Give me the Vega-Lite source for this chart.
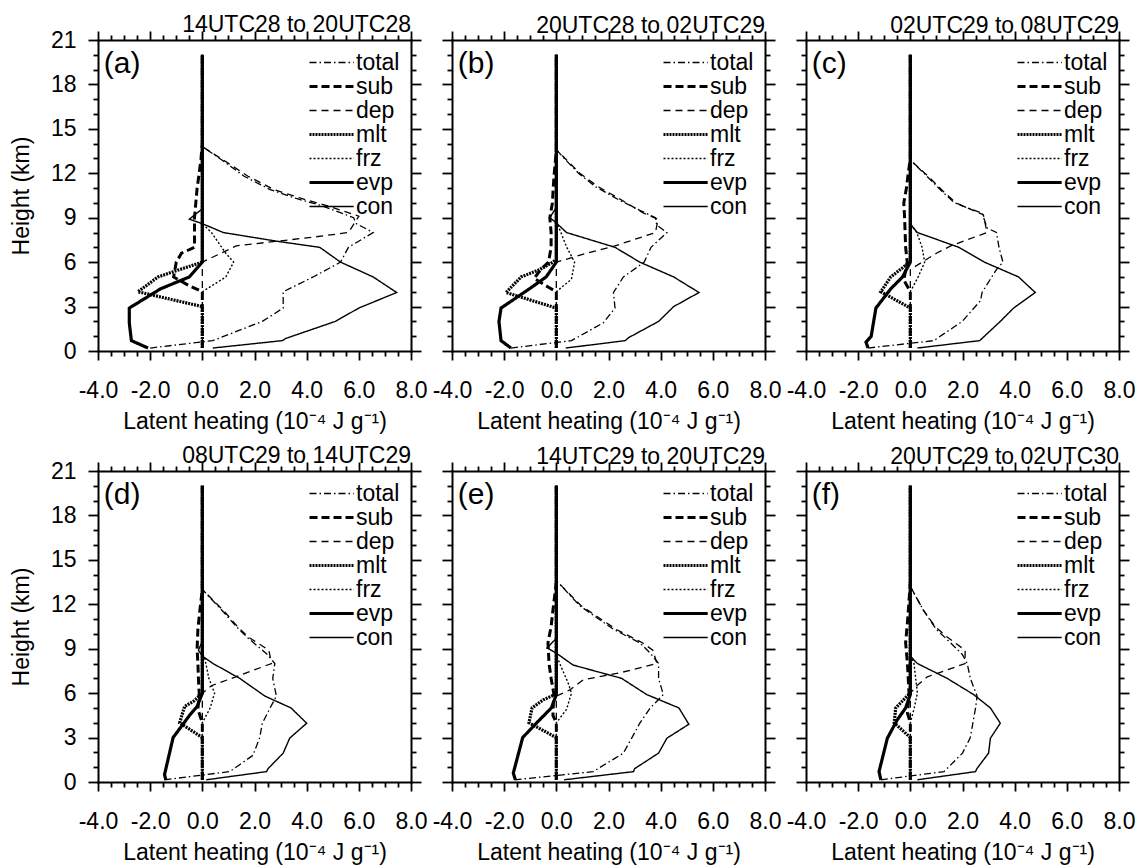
{
"$schema":"https://vega.github.io/schema/vega-lite/v6.json",
"background":"white",
"padding":{"left":10,"top":14,"right":5,"bottom":5},
"datasets":{"d":[
{"p":"a","s":"total","h":0.2,"v":-2.0},{"p":"a","s":"total","h":0.7,"v":0.4},{"p":"a","s":"total","h":2,"v":2.3},{"p":"a","s":"total","h":2.9,"v":3.1},{"p":"a","s":"total","h":4,"v":3.1},{"p":"a","s":"total","h":5,"v":4.25},{"p":"a","s":"total","h":6,"v":5.3},{"p":"a","s":"total","h":7,"v":5.6},{"p":"a","s":"total","h":8,"v":6.55},{"p":"a","s":"total","h":8.6,"v":5.9},{"p":"a","s":"total","h":9,"v":5.8},{"p":"a","s":"total","h":9.8,"v":4.6},{"p":"a","s":"total","h":10.3,"v":3.6},{"p":"a","s":"total","h":10.9,"v":2.6},{"p":"a","s":"total","h":11.8,"v":1.6},{"p":"a","s":"total","h":12.9,"v":0.75},{"p":"a","s":"total","h":13.8,"v":0},{"p":"a","s":"total","h":20,"v":0},
{"p":"a","s":"sub","h":0.2,"v":0},{"p":"a","s":"sub","h":4,"v":0},{"p":"a","s":"sub","h":4.4,"v":-0.5},{"p":"a","s":"sub","h":5,"v":-1.1},{"p":"a","s":"sub","h":6,"v":-1.0},{"p":"a","s":"sub","h":6.6,"v":-0.8},{"p":"a","s":"sub","h":7,"v":-0.3},{"p":"a","s":"sub","h":8,"v":-0.3},{"p":"a","s":"sub","h":9,"v":-0.3},{"p":"a","s":"sub","h":10,"v":-0.25},{"p":"a","s":"sub","h":11,"v":-0.2},{"p":"a","s":"sub","h":12,"v":-0.12},{"p":"a","s":"sub","h":13,"v":-0.05},{"p":"a","s":"sub","h":14,"v":0},{"p":"a","s":"sub","h":20,"v":0},
{"p":"a","s":"dep","h":0.2,"v":0},{"p":"a","s":"dep","h":6,"v":0},{"p":"a","s":"dep","h":7.1,"v":1.3},{"p":"a","s":"dep","h":7.4,"v":2.8},{"p":"a","s":"dep","h":7.7,"v":4.3},{"p":"a","s":"dep","h":8,"v":5.6},{"p":"a","s":"dep","h":9.1,"v":6.0},{"p":"a","s":"dep","h":9.8,"v":4.8},{"p":"a","s":"dep","h":10.3,"v":3.8},{"p":"a","s":"dep","h":10.9,"v":2.75},{"p":"a","s":"dep","h":11.8,"v":1.75},{"p":"a","s":"dep","h":12.9,"v":0.8},{"p":"a","s":"dep","h":13.8,"v":0},{"p":"a","s":"dep","h":20,"v":0},
{"p":"a","s":"mlt","h":0.2,"v":0},{"p":"a","s":"mlt","h":3,"v":0},{"p":"a","s":"mlt","h":4,"v":-2.47},{"p":"a","s":"mlt","h":5,"v":-1.7},{"p":"a","s":"mlt","h":5.5,"v":-0.87},{"p":"a","s":"mlt","h":6,"v":0},{"p":"a","s":"mlt","h":20,"v":0},
{"p":"a","s":"frz","h":0.2,"v":0},{"p":"a","s":"frz","h":4,"v":0},{"p":"a","s":"frz","h":5,"v":0.9},{"p":"a","s":"frz","h":6,"v":1.2},{"p":"a","s":"frz","h":6.6,"v":0.9},{"p":"a","s":"frz","h":8,"v":0.35},{"p":"a","s":"frz","h":8.6,"v":0},{"p":"a","s":"frz","h":20,"v":0},
{"p":"a","s":"evp","h":0.2,"v":-2.08},{"p":"a","s":"evp","h":0.7,"v":-2.72},{"p":"a","s":"evp","h":1.9,"v":-2.8},{"p":"a","s":"evp","h":2.9,"v":-2.8},{"p":"a","s":"evp","h":4.2,"v":-1.6},{"p":"a","s":"evp","h":5,"v":-0.5},{"p":"a","s":"evp","h":6,"v":0},{"p":"a","s":"evp","h":20,"v":0},
{"p":"a","s":"con","h":0.2,"v":0.4},{"p":"a","s":"con","h":0.7,"v":3.07},{"p":"a","s":"con","h":0.85,"v":3.2},{"p":"a","s":"con","h":2,"v":5.1},{"p":"a","s":"con","h":2.9,"v":6.0},{"p":"a","s":"con","h":3.95,"v":7.45},{"p":"a","s":"con","h":5,"v":6.55},{"p":"a","s":"con","h":6,"v":5.3},{"p":"a","s":"con","h":7,"v":4.5},{"p":"a","s":"con","h":7.4,"v":2.9},{"p":"a","s":"con","h":8,"v":0.8},{"p":"a","s":"con","h":8.6,"v":0},{"p":"a","s":"con","h":8.9,"v":-0.5},{"p":"a","s":"con","h":9.6,"v":0},{"p":"a","s":"con","h":20,"v":0},

{"p":"b","s":"total","h":0.2,"v":-1.74},{"p":"b","s":"total","h":0.7,"v":0.58},{"p":"b","s":"total","h":1.9,"v":1.8},{"p":"b","s":"total","h":2.9,"v":2.25},{"p":"b","s":"total","h":3.95,"v":2.19},{"p":"b","s":"total","h":5,"v":2.57},{"p":"b","s":"total","h":6,"v":3.37},{"p":"b","s":"total","h":7,"v":3.63},{"p":"b","s":"total","h":8,"v":4.24},{"p":"b","s":"total","h":8.5,"v":3.85},{"p":"b","s":"total","h":9,"v":3.8},{"p":"b","s":"total","h":9.5,"v":3.2},{"p":"b","s":"total","h":10.2,"v":2.4},{"p":"b","s":"total","h":11.1,"v":1.5},{"p":"b","s":"total","h":12,"v":0.85},{"p":"b","s":"total","h":13.1,"v":0.25},{"p":"b","s":"total","h":13.6,"v":0},{"p":"b","s":"total","h":20,"v":0},
{"p":"b","s":"sub","h":0.2,"v":0},{"p":"b","s":"sub","h":4,"v":0},{"p":"b","s":"sub","h":4.3,"v":-0.3},{"p":"b","s":"sub","h":4.9,"v":-0.85},{"p":"b","s":"sub","h":5.5,"v":-0.6},{"p":"b","s":"sub","h":6,"v":-0.3},{"p":"b","s":"sub","h":7,"v":-0.2},{"p":"b","s":"sub","h":8,"v":-0.2},{"p":"b","s":"sub","h":9,"v":-0.25},{"p":"b","s":"sub","h":10,"v":-0.15},{"p":"b","s":"sub","h":11,"v":-0.12},{"p":"b","s":"sub","h":12,"v":-0.08},{"p":"b","s":"sub","h":13.5,"v":0},{"p":"b","s":"sub","h":20,"v":0},
{"p":"b","s":"dep","h":0.2,"v":0},{"p":"b","s":"dep","h":6,"v":0},{"p":"b","s":"dep","h":6.6,"v":1.16},{"p":"b","s":"dep","h":7.1,"v":2.25},{"p":"b","s":"dep","h":8,"v":3.8},{"p":"b","s":"dep","h":8.9,"v":3.9},{"p":"b","s":"dep","h":9.3,"v":3.35},{"p":"b","s":"dep","h":10.2,"v":2.5},{"p":"b","s":"dep","h":11.1,"v":1.6},{"p":"b","s":"dep","h":12,"v":0.9},{"p":"b","s":"dep","h":13.1,"v":0.28},{"p":"b","s":"dep","h":13.6,"v":0},{"p":"b","s":"dep","h":20,"v":0},
{"p":"b","s":"mlt","h":0.2,"v":0},{"p":"b","s":"mlt","h":2.9,"v":0},{"p":"b","s":"mlt","h":3.95,"v":-1.93},{"p":"b","s":"mlt","h":5,"v":-1.35},{"p":"b","s":"mlt","h":5.5,"v":-0.64},{"p":"b","s":"mlt","h":6,"v":-0.13},{"p":"b","s":"mlt","h":6.2,"v":0},{"p":"b","s":"mlt","h":20,"v":0},
{"p":"b","s":"frz","h":0.2,"v":0},{"p":"b","s":"frz","h":4,"v":0},{"p":"b","s":"frz","h":4.85,"v":0.58},{"p":"b","s":"frz","h":6,"v":0.7},{"p":"b","s":"frz","h":7,"v":0.4},{"p":"b","s":"frz","h":8.2,"v":0.13},{"p":"b","s":"frz","h":8.7,"v":0},{"p":"b","s":"frz","h":20,"v":0},
{"p":"b","s":"evp","h":0.2,"v":-1.74},{"p":"b","s":"evp","h":0.7,"v":-2.12},{"p":"b","s":"evp","h":2,"v":-2.2},{"p":"b","s":"evp","h":2.9,"v":-2.12},{"p":"b","s":"evp","h":4.2,"v":-1.03},{"p":"b","s":"evp","h":5,"v":-0.39},{"p":"b","s":"evp","h":6,"v":0},{"p":"b","s":"evp","h":20,"v":0},
{"p":"b","s":"con","h":0.2,"v":0.36},{"p":"b","s":"con","h":0.7,"v":2.64},{"p":"b","s":"con","h":0.9,"v":2.77},{"p":"b","s":"con","h":2,"v":3.92},{"p":"b","s":"con","h":3,"v":4.5},{"p":"b","s":"con","h":3.95,"v":5.47},{"p":"b","s":"con","h":5,"v":4.5},{"p":"b","s":"con","h":6,"v":3.2},{"p":"b","s":"con","h":7,"v":2.25},{"p":"b","s":"con","h":8,"v":0.39},{"p":"b","s":"con","h":8.65,"v":0},{"p":"b","s":"con","h":9,"v":-0.25},{"p":"b","s":"con","h":9.7,"v":0},{"p":"b","s":"con","h":20,"v":0},

{"p":"c","s":"total","h":0.2,"v":-1.62},{"p":"c","s":"total","h":0.7,"v":0.9},{"p":"c","s":"total","h":2,"v":1.99},{"p":"c","s":"total","h":3.4,"v":2.69},{"p":"c","s":"total","h":3.95,"v":2.75},{"p":"c","s":"total","h":5.5,"v":3.3},{"p":"c","s":"total","h":6,"v":3.55},{"p":"c","s":"total","h":7,"v":3.4},{"p":"c","s":"total","h":8,"v":3.3},{"p":"c","s":"total","h":8.3,"v":2.95},{"p":"c","s":"total","h":9.3,"v":2.75},{"p":"c","s":"total","h":10,"v":1.7},{"p":"c","s":"total","h":10.8,"v":1.2},{"p":"c","s":"total","h":11.6,"v":0.75},{"p":"c","s":"total","h":12.9,"v":0},{"p":"c","s":"total","h":20,"v":0},
{"p":"c","s":"sub","h":0.2,"v":0},{"p":"c","s":"sub","h":4,"v":0},{"p":"c","s":"sub","h":4.8,"v":-0.25},{"p":"c","s":"sub","h":6,"v":-0.12},{"p":"c","s":"sub","h":7,"v":-0.18},{"p":"c","s":"sub","h":8,"v":-0.2},{"p":"c","s":"sub","h":9,"v":-0.22},{"p":"c","s":"sub","h":10,"v":-0.25},{"p":"c","s":"sub","h":11,"v":-0.15},{"p":"c","s":"sub","h":12,"v":-0.08},{"p":"c","s":"sub","h":13,"v":0},{"p":"c","s":"sub","h":20,"v":0},
{"p":"c","s":"dep","h":0.2,"v":0},{"p":"c","s":"dep","h":5.5,"v":0},{"p":"c","s":"dep","h":6,"v":0.45},{"p":"c","s":"dep","h":6.6,"v":1.0},{"p":"c","s":"dep","h":7.1,"v":1.55},{"p":"c","s":"dep","h":8,"v":2.94},{"p":"c","s":"dep","h":9.2,"v":2.8},{"p":"c","s":"dep","h":10,"v":1.75},{"p":"c","s":"dep","h":10.8,"v":1.25},{"p":"c","s":"dep","h":11.6,"v":0.8},{"p":"c","s":"dep","h":12.9,"v":0},{"p":"c","s":"dep","h":20,"v":0},
{"p":"c","s":"mlt","h":0.2,"v":0},{"p":"c","s":"mlt","h":2.9,"v":0},{"p":"c","s":"mlt","h":4,"v":-1.13},{"p":"c","s":"mlt","h":5,"v":-0.75},{"p":"c","s":"mlt","h":5.7,"v":-0.24},{"p":"c","s":"mlt","h":6,"v":0},{"p":"c","s":"mlt","h":20,"v":0},
{"p":"c","s":"frz","h":0.2,"v":0},{"p":"c","s":"frz","h":4,"v":0},{"p":"c","s":"frz","h":5,"v":0.3},{"p":"c","s":"frz","h":6,"v":0.55},{"p":"c","s":"frz","h":7,"v":0.45},{"p":"c","s":"frz","h":8,"v":0.25},{"p":"c","s":"frz","h":8.6,"v":0},{"p":"c","s":"frz","h":20,"v":0},
{"p":"c","s":"evp","h":0.2,"v":-1.62},{"p":"c","s":"evp","h":0.6,"v":-1.7},{"p":"c","s":"evp","h":1,"v":-1.5},{"p":"c","s":"evp","h":2.9,"v":-1.32},{"p":"c","s":"evp","h":4.2,"v":-0.75},{"p":"c","s":"evp","h":5,"v":-0.3},{"p":"c","s":"evp","h":6,"v":0},{"p":"c","s":"evp","h":20,"v":0},
{"p":"c","s":"con","h":0.2,"v":0.27},{"p":"c","s":"con","h":0.7,"v":2.66},{"p":"c","s":"con","h":2,"v":3.45},{"p":"c","s":"con","h":2.9,"v":3.96},{"p":"c","s":"con","h":3.95,"v":4.79},{"p":"c","s":"con","h":5,"v":4.15},{"p":"c","s":"con","h":6,"v":2.84},{"p":"c","s":"con","h":7,"v":1.86},{"p":"c","s":"con","h":8,"v":0.27},{"p":"c","s":"con","h":8.55,"v":0},{"p":"c","s":"con","h":20,"v":0},

{"p":"d","s":"total","h":0.15,"v":-1.45},{"p":"d","s":"total","h":0.7,"v":1.05},{"p":"d","s":"total","h":1.8,"v":1.94},{"p":"d","s":"total","h":3,"v":2.2},{"p":"d","s":"total","h":3.97,"v":2.3},{"p":"d","s":"total","h":5,"v":2.6},{"p":"d","s":"total","h":5.8,"v":2.84},{"p":"d","s":"total","h":7,"v":2.7},{"p":"d","s":"total","h":8,"v":2.78},{"p":"d","s":"total","h":8.6,"v":2.5},{"p":"d","s":"total","h":9.8,"v":1.7},{"p":"d","s":"total","h":10.5,"v":1.3},{"p":"d","s":"total","h":11.5,"v":0.8},{"p":"d","s":"total","h":13,"v":0},{"p":"d","s":"total","h":20,"v":0},
{"p":"d","s":"sub","h":0.15,"v":0},{"p":"d","s":"sub","h":4,"v":0},{"p":"d","s":"sub","h":4.9,"v":-0.17},{"p":"d","s":"sub","h":6,"v":-0.12},{"p":"d","s":"sub","h":7,"v":-0.15},{"p":"d","s":"sub","h":8,"v":-0.17},{"p":"d","s":"sub","h":9,"v":-0.2},{"p":"d","s":"sub","h":10.3,"v":-0.17},{"p":"d","s":"sub","h":11.5,"v":-0.1},{"p":"d","s":"sub","h":13,"v":0},{"p":"d","s":"sub","h":20,"v":0},
{"p":"d","s":"dep","h":0.15,"v":0},{"p":"d","s":"dep","h":6,"v":0},{"p":"d","s":"dep","h":6.5,"v":0.35},{"p":"d","s":"dep","h":7.2,"v":1.43},{"p":"d","s":"dep","h":8,"v":2.65},{"p":"d","s":"dep","h":8.9,"v":2.55},{"p":"d","s":"dep","h":9.8,"v":1.75},{"p":"d","s":"dep","h":10.5,"v":1.35},{"p":"d","s":"dep","h":11.5,"v":0.85},{"p":"d","s":"dep","h":13,"v":0},{"p":"d","s":"dep","h":20,"v":0},
{"p":"d","s":"mlt","h":0.15,"v":0},{"p":"d","s":"mlt","h":3,"v":0},{"p":"d","s":"mlt","h":4,"v":-0.87},{"p":"d","s":"mlt","h":5.1,"v":-0.68},{"p":"d","s":"mlt","h":5.5,"v":-0.3},{"p":"d","s":"mlt","h":6,"v":0},{"p":"d","s":"mlt","h":20,"v":0},
{"p":"d","s":"frz","h":0.15,"v":0},{"p":"d","s":"frz","h":4,"v":0},{"p":"d","s":"frz","h":5,"v":0.3},{"p":"d","s":"frz","h":6,"v":0.47},{"p":"d","s":"frz","h":7,"v":0.25},{"p":"d","s":"frz","h":8.3,"v":0.1},{"p":"d","s":"frz","h":8.7,"v":0},{"p":"d","s":"frz","h":20,"v":0},
{"p":"d","s":"evp","h":0.15,"v":-1.4},{"p":"d","s":"evp","h":0.5,"v":-1.45},{"p":"d","s":"evp","h":3,"v":-1.12},{"p":"d","s":"evp","h":4.5,"v":-0.49},{"p":"d","s":"evp","h":5.1,"v":-0.2},{"p":"d","s":"evp","h":6,"v":0},{"p":"d","s":"evp","h":20,"v":0},
{"p":"d","s":"con","h":0.15,"v":0.15},{"p":"d","s":"con","h":0.7,"v":2.46},{"p":"d","s":"con","h":0.9,"v":2.52},{"p":"d","s":"con","h":1.95,"v":3.1},{"p":"d","s":"con","h":2.96,"v":3.35},{"p":"d","s":"con","h":3.97,"v":4.0},{"p":"d","s":"con","h":5,"v":3.4},{"p":"d","s":"con","h":5.8,"v":2.4},{"p":"d","s":"con","h":7,"v":1.43},{"p":"d","s":"con","h":8,"v":0.41},{"p":"d","s":"con","h":8.5,"v":0},{"p":"d","s":"con","h":8.9,"v":-0.15},{"p":"d","s":"con","h":9.5,"v":0},{"p":"d","s":"con","h":20,"v":0},

{"p":"e","s":"total","h":0.15,"v":-1.6},{"p":"e","s":"total","h":0.7,"v":1.41},{"p":"e","s":"total","h":1.95,"v":2.57},{"p":"e","s":"total","h":3,"v":2.9},{"p":"e","s":"total","h":3.97,"v":3.2},{"p":"e","s":"total","h":5,"v":3.6},{"p":"e","s":"total","h":5.9,"v":4.1},{"p":"e","s":"total","h":7,"v":3.92},{"p":"e","s":"total","h":8,"v":3.92},{"p":"e","s":"total","h":8.7,"v":3.6},{"p":"e","s":"total","h":9.4,"v":3.2},{"p":"e","s":"total","h":10.3,"v":2.2},{"p":"e","s":"total","h":11.9,"v":0.9},{"p":"e","s":"total","h":13.6,"v":0},{"p":"e","s":"total","h":20,"v":0},
{"p":"e","s":"sub","h":0.15,"v":0},{"p":"e","s":"sub","h":4,"v":0},{"p":"e","s":"sub","h":4.5,"v":-0.13},{"p":"e","s":"sub","h":6,"v":-0.1},{"p":"e","s":"sub","h":7,"v":-0.2},{"p":"e","s":"sub","h":8,"v":-0.28},{"p":"e","s":"sub","h":9.4,"v":-0.32},{"p":"e","s":"sub","h":10.5,"v":-0.2},{"p":"e","s":"sub","h":11.6,"v":-0.13},{"p":"e","s":"sub","h":13.5,"v":0},{"p":"e","s":"sub","h":20,"v":0},
{"p":"e","s":"dep","h":0.15,"v":0},{"p":"e","s":"dep","h":5.8,"v":0},{"p":"e","s":"dep","h":6.2,"v":0.5},{"p":"e","s":"dep","h":6.9,"v":1.03},{"p":"e","s":"dep","h":7.4,"v":2.5},{"p":"e","s":"dep","h":8,"v":3.86},{"p":"e","s":"dep","h":8.9,"v":3.7},{"p":"e","s":"dep","h":9.4,"v":3.3},{"p":"e","s":"dep","h":10.3,"v":2.3},{"p":"e","s":"dep","h":11.9,"v":0.95},{"p":"e","s":"dep","h":13.6,"v":0},{"p":"e","s":"dep","h":20,"v":0},
{"p":"e","s":"mlt","h":0.15,"v":0},{"p":"e","s":"mlt","h":3,"v":0},{"p":"e","s":"mlt","h":4,"v":-1.05},{"p":"e","s":"mlt","h":5,"v":-0.93},{"p":"e","s":"mlt","h":5.55,"v":-0.5},{"p":"e","s":"mlt","h":5.9,"v":-0.06},{"p":"e","s":"mlt","h":6.1,"v":0},{"p":"e","s":"mlt","h":20,"v":0},
{"p":"e","s":"frz","h":0.15,"v":0},{"p":"e","s":"frz","h":4,"v":0},{"p":"e","s":"frz","h":4.9,"v":0.39},{"p":"e","s":"frz","h":6,"v":0.58},{"p":"e","s":"frz","h":6.7,"v":0.45},{"p":"e","s":"frz","h":8,"v":0.13},{"p":"e","s":"frz","h":8.6,"v":0},{"p":"e","s":"frz","h":20,"v":0},
{"p":"e","s":"evp","h":0.15,"v":-1.57},{"p":"e","s":"evp","h":0.6,"v":-1.65},{"p":"e","s":"evp","h":3,"v":-1.29},{"p":"e","s":"evp","h":4.2,"v":-0.64},{"p":"e","s":"evp","h":5,"v":-0.19},{"p":"e","s":"evp","h":5.9,"v":0},{"p":"e","s":"evp","h":20,"v":0},
{"p":"e","s":"con","h":0.15,"v":0.3},{"p":"e","s":"con","h":0.7,"v":2.96},{"p":"e","s":"con","h":0.9,"v":3.0},{"p":"e","s":"con","h":1.95,"v":3.92},{"p":"e","s":"con","h":2.96,"v":4.24},{"p":"e","s":"con","h":3.9,"v":5.08},{"p":"e","s":"con","h":5,"v":4.7},{"p":"e","s":"con","h":5.9,"v":3.47},{"p":"e","s":"con","h":7,"v":2.5},{"p":"e","s":"con","h":7.9,"v":0.64},{"p":"e","s":"con","h":8.7,"v":0},{"p":"e","s":"con","h":9.05,"v":-0.36},{"p":"e","s":"con","h":9.7,"v":0},{"p":"e","s":"con","h":20,"v":0},

{"p":"f","s":"total","h":0.15,"v":-1.13},{"p":"f","s":"total","h":0.7,"v":1.29},{"p":"f","s":"total","h":1.95,"v":2.0},{"p":"f","s":"total","h":3,"v":2.3},{"p":"f","s":"total","h":4,"v":2.4},{"p":"f","s":"total","h":5,"v":2.5},{"p":"f","s":"total","h":5.8,"v":2.56},{"p":"f","s":"total","h":7,"v":2.3},{"p":"f","s":"total","h":8,"v":2.18},{"p":"f","s":"total","h":8.6,"v":2.0},{"p":"f","s":"total","h":9.4,"v":1.54},{"p":"f","s":"total","h":10.3,"v":1.0},{"p":"f","s":"total","h":11.6,"v":0.5},{"p":"f","s":"total","h":13.2,"v":0},{"p":"f","s":"total","h":20,"v":0},
{"p":"f","s":"sub","h":0.15,"v":0},{"p":"f","s":"sub","h":4,"v":0},{"p":"f","s":"sub","h":4.65,"v":-0.11},{"p":"f","s":"sub","h":6,"v":-0.05},{"p":"f","s":"sub","h":8,"v":-0.11},{"p":"f","s":"sub","h":9.4,"v":-0.18},{"p":"f","s":"sub","h":11,"v":-0.1},{"p":"f","s":"sub","h":12.5,"v":-0.04},{"p":"f","s":"sub","h":13.5,"v":0},{"p":"f","s":"sub","h":20,"v":0},
{"p":"f","s":"dep","h":0.15,"v":0},{"p":"f","s":"dep","h":6,"v":0},{"p":"f","s":"dep","h":6.5,"v":0.25},{"p":"f","s":"dep","h":7.1,"v":0.65},{"p":"f","s":"dep","h":8,"v":2.1},{"p":"f","s":"dep","h":8.9,"v":2.1},{"p":"f","s":"dep","h":9.8,"v":1.4},{"p":"f","s":"dep","h":10.5,"v":0.95},{"p":"f","s":"dep","h":11.6,"v":0.5},{"p":"f","s":"dep","h":13.2,"v":0},{"p":"f","s":"dep","h":20,"v":0},
{"p":"f","s":"mlt","h":0.15,"v":0},{"p":"f","s":"mlt","h":3,"v":0},{"p":"f","s":"mlt","h":4,"v":-0.62},{"p":"f","s":"mlt","h":5,"v":-0.56},{"p":"f","s":"mlt","h":5.7,"v":-0.18},{"p":"f","s":"mlt","h":6,"v":0},{"p":"f","s":"mlt","h":20,"v":0},
{"p":"f","s":"frz","h":0.15,"v":0},{"p":"f","s":"frz","h":4,"v":0},{"p":"f","s":"frz","h":5,"v":0.15},{"p":"f","s":"frz","h":6,"v":0.27},{"p":"f","s":"frz","h":8,"v":0.14},{"p":"f","s":"frz","h":8.6,"v":0},{"p":"f","s":"frz","h":20,"v":0},
{"p":"f","s":"evp","h":0.15,"v":-1.13},{"p":"f","s":"evp","h":0.7,"v":-1.2},{"p":"f","s":"evp","h":2.96,"v":-0.88},{"p":"f","s":"evp","h":4.2,"v":-0.5},{"p":"f","s":"evp","h":5,"v":-0.18},{"p":"f","s":"evp","h":5.9,"v":0},{"p":"f","s":"evp","h":20,"v":0},
{"p":"f","s":"con","h":0.15,"v":0.27},{"p":"f","s":"con","h":0.7,"v":2.5},{"p":"f","s":"con","h":0.9,"v":2.55},{"p":"f","s":"con","h":1.95,"v":3.0},{"p":"f","s":"con","h":2.96,"v":3.07},{"p":"f","s":"con","h":3.97,"v":3.45},{"p":"f","s":"con","h":5,"v":3.07},{"p":"f","s":"con","h":5.9,"v":2.43},{"p":"f","s":"con","h":7,"v":1.41},{"p":"f","s":"con","h":8,"v":0.27},{"p":"f","s":"con","h":8.5,"v":0},{"p":"f","s":"con","h":20,"v":0}
]},
"columns":3,
"spacing":{"row":120,"column":41},
"bounds":"flush",
"resolve":{"scale":{"strokeDash":"independent","strokeWidth":"independent"}},
"concat":[
{"width":313,"height":311,"title":"14UTC28 to 20UTC28",
 "layer":[
  {"data":{"name":"d"},"transform":[{"filter":"datum.p==='a'"}],
   "mark":{"type":"line","color":"black","strokeCap":"butt"},
   "encoding":{
    "x":{"field":"v","type":"quantitative","scale":{"domain":[-4,8],"nice":false,"zero":false},"axis":{"orient":"bottom","values":[-4,-3.5,-3,-2.5,-2,-1.5,-1,-0.5,0,0.5,1,1.5,2,2.5,3,3.5,4,4.5,5,5.5,6,6.5,7,7.5,8],"format":".1f","labelExpr":"datum.value % 2 === 0 ? replace(datum.label, '−', '-') : ''","tickSize":{"condition":{"test":"datum.value % 2 === 0","value":9},"value":5},"labelPadding":19,"title":"Latent heating (10⁻⁴ J g⁻¹)","titlePadding":8}},
    "y":{"field":"h","type":"quantitative","scale":{"domain":[0,21],"nice":false,"zero":false},"axis":{"orient":"left","values":[0,1,2,3,4,5,6,7,8,9,10,11,12,13,14,15,16,17,18,19,20,21],"labelExpr":"datum.value % 3 === 0 ? datum.label : ''","tickSize":{"condition":{"test":"datum.value % 3 === 0","value":10},"value":5},"labelPadding":12,"title":"Height (km)","titlePadding":17}},
    "order":{"field":"h","type":"quantitative"},
    "strokeDash":{"field":"s","type":"nominal","scale":{"type":"ordinal","domain":["total","sub","dep","mlt","frz","evp","con"],"range":[[7,3,1.5,3],[8,4],[7,5],[2,1],[2,2],[1,0],[1,0]]},"legend":{"title":null}},
    "strokeWidth":{"field":"s","type":"nominal","scale":{"type":"ordinal","domain":["total","sub","dep","mlt","frz","evp","con"],"range":[1.3,3,1.3,3.2,1.4,3.2,1.4]},"legend":{"title":null}}
   }},
  {"data":{"values":[{}]},
   "mark":{"type":"text","text":"(a)","align":"left","baseline":"top","fontSize":30,"color":"black"},
   "encoding":{
    "x":{"datum":-3.78,"type":"quantitative","axis":{"orient":"top","values":[-4,-3.5,-3,-2.5,-2,-1.5,-1,-0.5,0,0.5,1,1.5,2,2.5,3,3.5,4,4.5,5,5.5,6,6.5,7,7.5,8],"labels":false,"title":null,"tickSize":{"condition":{"test":"datum.value % 2 === 0","value":9},"value":5}}},
    "y":{"datum":20.4,"type":"quantitative","axis":{"orient":"right","values":[0,1,2,3,4,5,6,7,8,9,10,11,12,13,14,15,16,17,18,19,20,21],"labels":false,"title":null,"tickSize":{"condition":{"test":"datum.value % 3 === 0","value":10},"value":5}}}
   }}
 ],
 "resolve":{"axis":{"x":"independent","y":"independent"}}},
{"width":313,"height":311,"title":"20UTC28 to 02UTC29",
 "layer":[
  {"data":{"name":"d"},"transform":[{"filter":"datum.p==='b'"}],
   "mark":{"type":"line","color":"black","strokeCap":"butt"},
   "encoding":{
    "x":{"field":"v","type":"quantitative","scale":{"domain":[-4,8],"nice":false,"zero":false},"axis":{"orient":"bottom","values":[-4,-3.5,-3,-2.5,-2,-1.5,-1,-0.5,0,0.5,1,1.5,2,2.5,3,3.5,4,4.5,5,5.5,6,6.5,7,7.5,8],"format":".1f","labelExpr":"datum.value % 2 === 0 ? replace(datum.label, '−', '-') : ''","tickSize":{"condition":{"test":"datum.value % 2 === 0","value":9},"value":5},"labelPadding":19,"title":"Latent heating (10⁻⁴ J g⁻¹)","titlePadding":8}},
    "y":{"field":"h","type":"quantitative","scale":{"domain":[0,21],"nice":false,"zero":false},"axis":{"orient":"left","values":[0,1,2,3,4,5,6,7,8,9,10,11,12,13,14,15,16,17,18,19,20,21],"labels":false,"title":null,"tickSize":{"condition":{"test":"datum.value % 3 === 0","value":10},"value":5}}},
    "order":{"field":"h","type":"quantitative"},
    "strokeDash":{"field":"s","type":"nominal","scale":{"type":"ordinal","domain":["total","sub","dep","mlt","frz","evp","con"],"range":[[7,3,1.5,3],[8,4],[7,5],[2,1],[2,2],[1,0],[1,0]]},"legend":{"title":null}},
    "strokeWidth":{"field":"s","type":"nominal","scale":{"type":"ordinal","domain":["total","sub","dep","mlt","frz","evp","con"],"range":[1.3,3,1.3,3.2,1.4,3.2,1.4]},"legend":{"title":null}}
   }},
  {"data":{"values":[{}]},
   "mark":{"type":"text","text":"(b)","align":"left","baseline":"top","fontSize":30,"color":"black"},
   "encoding":{
    "x":{"datum":-3.78,"type":"quantitative","axis":{"orient":"top","values":[-4,-3.5,-3,-2.5,-2,-1.5,-1,-0.5,0,0.5,1,1.5,2,2.5,3,3.5,4,4.5,5,5.5,6,6.5,7,7.5,8],"labels":false,"title":null,"tickSize":{"condition":{"test":"datum.value % 2 === 0","value":9},"value":5}}},
    "y":{"datum":20.4,"type":"quantitative","axis":{"orient":"right","values":[0,1,2,3,4,5,6,7,8,9,10,11,12,13,14,15,16,17,18,19,20,21],"labels":false,"title":null,"tickSize":{"condition":{"test":"datum.value % 3 === 0","value":10},"value":5}}}
   }}
 ],
 "resolve":{"axis":{"x":"independent","y":"independent"}}},
{"width":313,"height":311,"title":"02UTC29 to 08UTC29",
 "layer":[
  {"data":{"name":"d"},"transform":[{"filter":"datum.p==='c'"}],
   "mark":{"type":"line","color":"black","strokeCap":"butt"},
   "encoding":{
    "x":{"field":"v","type":"quantitative","scale":{"domain":[-4,8],"nice":false,"zero":false},"axis":{"orient":"bottom","values":[-4,-3.5,-3,-2.5,-2,-1.5,-1,-0.5,0,0.5,1,1.5,2,2.5,3,3.5,4,4.5,5,5.5,6,6.5,7,7.5,8],"format":".1f","labelExpr":"datum.value % 2 === 0 ? replace(datum.label, '−', '-') : ''","tickSize":{"condition":{"test":"datum.value % 2 === 0","value":9},"value":5},"labelPadding":19,"title":"Latent heating (10⁻⁴ J g⁻¹)","titlePadding":8}},
    "y":{"field":"h","type":"quantitative","scale":{"domain":[0,21],"nice":false,"zero":false},"axis":{"orient":"left","values":[0,1,2,3,4,5,6,7,8,9,10,11,12,13,14,15,16,17,18,19,20,21],"labels":false,"title":null,"tickSize":{"condition":{"test":"datum.value % 3 === 0","value":10},"value":5}}},
    "order":{"field":"h","type":"quantitative"},
    "strokeDash":{"field":"s","type":"nominal","scale":{"type":"ordinal","domain":["total","sub","dep","mlt","frz","evp","con"],"range":[[7,3,1.5,3],[8,4],[7,5],[2,1],[2,2],[1,0],[1,0]]},"legend":{"title":null}},
    "strokeWidth":{"field":"s","type":"nominal","scale":{"type":"ordinal","domain":["total","sub","dep","mlt","frz","evp","con"],"range":[1.3,3,1.3,3.2,1.4,3.2,1.4]},"legend":{"title":null}}
   }},
  {"data":{"values":[{}]},
   "mark":{"type":"text","text":"(c)","align":"left","baseline":"top","fontSize":30,"color":"black"},
   "encoding":{
    "x":{"datum":-3.78,"type":"quantitative","axis":{"orient":"top","values":[-4,-3.5,-3,-2.5,-2,-1.5,-1,-0.5,0,0.5,1,1.5,2,2.5,3,3.5,4,4.5,5,5.5,6,6.5,7,7.5,8],"labels":false,"title":null,"tickSize":{"condition":{"test":"datum.value % 2 === 0","value":9},"value":5}}},
    "y":{"datum":20.4,"type":"quantitative","axis":{"orient":"right","values":[0,1,2,3,4,5,6,7,8,9,10,11,12,13,14,15,16,17,18,19,20,21],"labels":false,"title":null,"tickSize":{"condition":{"test":"datum.value % 3 === 0","value":10},"value":5}}}
   }}
 ],
 "resolve":{"axis":{"x":"independent","y":"independent"}}},
{"width":313,"height":311,"title":"08UTC29 to 14UTC29",
 "layer":[
  {"data":{"name":"d"},"transform":[{"filter":"datum.p==='d'"}],
   "mark":{"type":"line","color":"black","strokeCap":"butt"},
   "encoding":{
    "x":{"field":"v","type":"quantitative","scale":{"domain":[-4,8],"nice":false,"zero":false},"axis":{"orient":"bottom","values":[-4,-3.5,-3,-2.5,-2,-1.5,-1,-0.5,0,0.5,1,1.5,2,2.5,3,3.5,4,4.5,5,5.5,6,6.5,7,7.5,8],"format":".1f","labelExpr":"datum.value % 2 === 0 ? replace(datum.label, '−', '-') : ''","tickSize":{"condition":{"test":"datum.value % 2 === 0","value":9},"value":5},"labelPadding":19,"title":"Latent heating (10⁻⁴ J g⁻¹)","titlePadding":8}},
    "y":{"field":"h","type":"quantitative","scale":{"domain":[0,21],"nice":false,"zero":false},"axis":{"orient":"left","values":[0,1,2,3,4,5,6,7,8,9,10,11,12,13,14,15,16,17,18,19,20,21],"labelExpr":"datum.value % 3 === 0 ? datum.label : ''","tickSize":{"condition":{"test":"datum.value % 3 === 0","value":10},"value":5},"labelPadding":12,"title":"Height (km)","titlePadding":17}},
    "order":{"field":"h","type":"quantitative"},
    "strokeDash":{"field":"s","type":"nominal","scale":{"type":"ordinal","domain":["total","sub","dep","mlt","frz","evp","con"],"range":[[7,3,1.5,3],[8,4],[7,5],[2,1],[2,2],[1,0],[1,0]]},"legend":{"title":null}},
    "strokeWidth":{"field":"s","type":"nominal","scale":{"type":"ordinal","domain":["total","sub","dep","mlt","frz","evp","con"],"range":[1.3,3,1.3,3.2,1.4,3.2,1.4]},"legend":{"title":null}}
   }},
  {"data":{"values":[{}]},
   "mark":{"type":"text","text":"(d)","align":"left","baseline":"top","fontSize":30,"color":"black"},
   "encoding":{
    "x":{"datum":-3.78,"type":"quantitative","axis":{"orient":"top","values":[-4,-3.5,-3,-2.5,-2,-1.5,-1,-0.5,0,0.5,1,1.5,2,2.5,3,3.5,4,4.5,5,5.5,6,6.5,7,7.5,8],"labels":false,"title":null,"tickSize":{"condition":{"test":"datum.value % 2 === 0","value":9},"value":5}}},
    "y":{"datum":20.4,"type":"quantitative","axis":{"orient":"right","values":[0,1,2,3,4,5,6,7,8,9,10,11,12,13,14,15,16,17,18,19,20,21],"labels":false,"title":null,"tickSize":{"condition":{"test":"datum.value % 3 === 0","value":10},"value":5}}}
   }}
 ],
 "resolve":{"axis":{"x":"independent","y":"independent"}}},
{"width":313,"height":311,"title":"14UTC29 to 20UTC29",
 "layer":[
  {"data":{"name":"d"},"transform":[{"filter":"datum.p==='e'"}],
   "mark":{"type":"line","color":"black","strokeCap":"butt"},
   "encoding":{
    "x":{"field":"v","type":"quantitative","scale":{"domain":[-4,8],"nice":false,"zero":false},"axis":{"orient":"bottom","values":[-4,-3.5,-3,-2.5,-2,-1.5,-1,-0.5,0,0.5,1,1.5,2,2.5,3,3.5,4,4.5,5,5.5,6,6.5,7,7.5,8],"format":".1f","labelExpr":"datum.value % 2 === 0 ? replace(datum.label, '−', '-') : ''","tickSize":{"condition":{"test":"datum.value % 2 === 0","value":9},"value":5},"labelPadding":19,"title":"Latent heating (10⁻⁴ J g⁻¹)","titlePadding":8}},
    "y":{"field":"h","type":"quantitative","scale":{"domain":[0,21],"nice":false,"zero":false},"axis":{"orient":"left","values":[0,1,2,3,4,5,6,7,8,9,10,11,12,13,14,15,16,17,18,19,20,21],"labels":false,"title":null,"tickSize":{"condition":{"test":"datum.value % 3 === 0","value":10},"value":5}}},
    "order":{"field":"h","type":"quantitative"},
    "strokeDash":{"field":"s","type":"nominal","scale":{"type":"ordinal","domain":["total","sub","dep","mlt","frz","evp","con"],"range":[[7,3,1.5,3],[8,4],[7,5],[2,1],[2,2],[1,0],[1,0]]},"legend":{"title":null}},
    "strokeWidth":{"field":"s","type":"nominal","scale":{"type":"ordinal","domain":["total","sub","dep","mlt","frz","evp","con"],"range":[1.3,3,1.3,3.2,1.4,3.2,1.4]},"legend":{"title":null}}
   }},
  {"data":{"values":[{}]},
   "mark":{"type":"text","text":"(e)","align":"left","baseline":"top","fontSize":30,"color":"black"},
   "encoding":{
    "x":{"datum":-3.78,"type":"quantitative","axis":{"orient":"top","values":[-4,-3.5,-3,-2.5,-2,-1.5,-1,-0.5,0,0.5,1,1.5,2,2.5,3,3.5,4,4.5,5,5.5,6,6.5,7,7.5,8],"labels":false,"title":null,"tickSize":{"condition":{"test":"datum.value % 2 === 0","value":9},"value":5}}},
    "y":{"datum":20.4,"type":"quantitative","axis":{"orient":"right","values":[0,1,2,3,4,5,6,7,8,9,10,11,12,13,14,15,16,17,18,19,20,21],"labels":false,"title":null,"tickSize":{"condition":{"test":"datum.value % 3 === 0","value":10},"value":5}}}
   }}
 ],
 "resolve":{"axis":{"x":"independent","y":"independent"}}},
{"width":313,"height":311,"title":"20UTC29 to 02UTC30",
 "layer":[
  {"data":{"name":"d"},"transform":[{"filter":"datum.p==='f'"}],
   "mark":{"type":"line","color":"black","strokeCap":"butt"},
   "encoding":{
    "x":{"field":"v","type":"quantitative","scale":{"domain":[-4,8],"nice":false,"zero":false},"axis":{"orient":"bottom","values":[-4,-3.5,-3,-2.5,-2,-1.5,-1,-0.5,0,0.5,1,1.5,2,2.5,3,3.5,4,4.5,5,5.5,6,6.5,7,7.5,8],"format":".1f","labelExpr":"datum.value % 2 === 0 ? replace(datum.label, '−', '-') : ''","tickSize":{"condition":{"test":"datum.value % 2 === 0","value":9},"value":5},"labelPadding":19,"title":"Latent heating (10⁻⁴ J g⁻¹)","titlePadding":8}},
    "y":{"field":"h","type":"quantitative","scale":{"domain":[0,21],"nice":false,"zero":false},"axis":{"orient":"left","values":[0,1,2,3,4,5,6,7,8,9,10,11,12,13,14,15,16,17,18,19,20,21],"labels":false,"title":null,"tickSize":{"condition":{"test":"datum.value % 3 === 0","value":10},"value":5}}},
    "order":{"field":"h","type":"quantitative"},
    "strokeDash":{"field":"s","type":"nominal","scale":{"type":"ordinal","domain":["total","sub","dep","mlt","frz","evp","con"],"range":[[7,3,1.5,3],[8,4],[7,5],[2,1],[2,2],[1,0],[1,0]]},"legend":{"title":null}},
    "strokeWidth":{"field":"s","type":"nominal","scale":{"type":"ordinal","domain":["total","sub","dep","mlt","frz","evp","con"],"range":[1.3,3,1.3,3.2,1.4,3.2,1.4]},"legend":{"title":null}}
   }},
  {"data":{"values":[{}]},
   "mark":{"type":"text","text":"(f)","align":"left","baseline":"top","fontSize":30,"color":"black"},
   "encoding":{
    "x":{"datum":-3.78,"type":"quantitative","axis":{"orient":"top","values":[-4,-3.5,-3,-2.5,-2,-1.5,-1,-0.5,0,0.5,1,1.5,2,2.5,3,3.5,4,4.5,5,5.5,6,6.5,7,7.5,8],"labels":false,"title":null,"tickSize":{"condition":{"test":"datum.value % 2 === 0","value":9},"value":5}}},
    "y":{"datum":20.4,"type":"quantitative","axis":{"orient":"right","values":[0,1,2,3,4,5,6,7,8,9,10,11,12,13,14,15,16,17,18,19,20,21],"labels":false,"title":null,"tickSize":{"condition":{"test":"datum.value % 3 === 0","value":10},"value":5}}}
   }}
 ],
 "resolve":{"axis":{"x":"independent","y":"independent"}}}
],
"config":{
 "font":"Liberation Sans",
 "view":{"stroke":null},
 "axis":{"domainColor":"black","domainWidth":2,"tickColor":"black","tickWidth":1.8,"grid":false,"labelFontSize":23,"labelColor":"black","labelFont":"Liberation Sans","titleFont":"Liberation Sans","titleFontSize":23,"titleFontWeight":"normal","titleColor":"black","labelFlush":false,"labelOverlap":false,"domainCap":"square"},
 "legend":{"orient":"top-right","offset":11,"padding":0,"labelFontSize":23,"labelColor":"black","labelFont":"Liberation Sans","symbolType":"M-4,0H1.2","symbolSize":289,"labelOffset":1,"rowPadding":-1.2,"symbolStrokeColor":"black"},
 "title":{"anchor":"end","frame":"group","fontSize":23,"fontWeight":"normal","font":"Liberation Sans","color":"black","offset":-8,"baseline":"alphabetic"},
 "text":{"font":"Liberation Sans"}
}
}
